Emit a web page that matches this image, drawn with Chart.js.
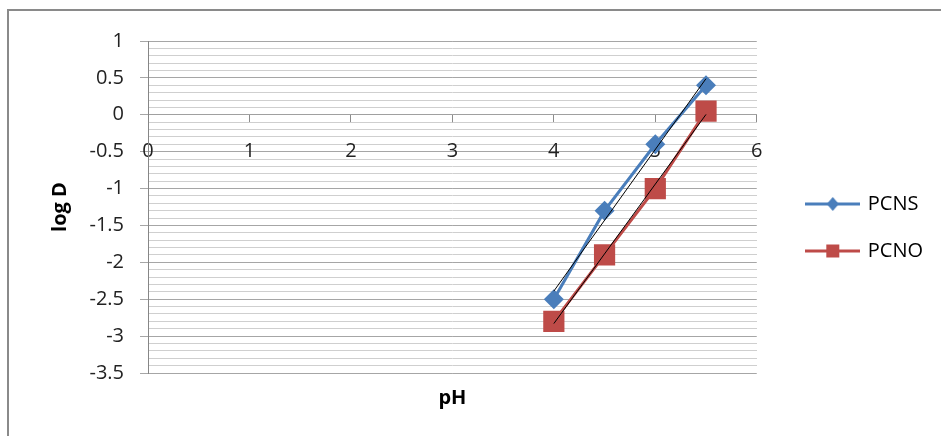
<!DOCTYPE html>
<html><head><meta charset="utf-8">
<script src="https://cdn.jsdelivr.net/npm/chart.js@4/dist/chart.umd.min.js"></script>
<style>
html,body{margin:0;padding:0;background:#fff;}
#frame{position:absolute;left:7px;top:9px;width:960px;height:460px;border:2px solid #8a8a8a;box-sizing:border-box;}
#wrap{position:absolute;left:0;top:0;width:941px;height:436px;}
</style></head><body>
<div id="frame"></div>
<div id="wrap"><canvas id="c" width="941" height="436"></canvas></div>
<script>
const seriesNames = ['PCNS', 'PCNO'];
const phValues = [4, 4.5, 5, 5.5];
const pcnsLogD = [-2.5, -1.3, -0.4, 0.4];
const pcnoLogD = [-2.8, -1.9, -1.0, 0.05];
const xTicks = [0, 1, 2, 3, 4, 5, 6];
const yTicks = [1, 0.5, 0, -0.5, -1, -1.5, -2, -2.5, -3, -3.5];
const xTitle = 'pH';
const yTitle = 'log D';

const colors = ['#4a7ebb', '#be4b48'];
const styles = ['rectRot', 'rect'];
const FONT = '"Open Sans", "DejaVu Sans", sans-serif';

function linearFit(xs, ys) {
  const n = xs.length;
  const mx = xs.reduce((a, b) => a + b, 0) / n;
  const my = ys.reduce((a, b) => a + b, 0) / n;
  let sxy = 0, sxx = 0;
  for (let i = 0; i < n; i++) { sxy += (xs[i] - mx) * (ys[i] - my); sxx += (xs[i] - mx) ** 2; }
  const m = sxy / sxx, b = my - m * mx;
  const x0 = Math.min(...xs), x1 = Math.max(...xs);
  return [{x: x0, y: m * x0 + b}, {x: x1, y: m * x1 + b}];
}

function legendIcon(color, style) {
  const c = document.createElement('canvas');
  c.width = 55; c.height = 20;
  const g = c.getContext('2d');
  g.strokeStyle = color; g.lineWidth = 3;
  g.beginPath(); g.moveTo(0, 10); g.lineTo(55, 10); g.stroke();
  g.fillStyle = color;
  g.beginPath();
  if (style === 'rectRot') {
    g.moveTo(27.5, 3); g.lineTo(33.5, 10); g.lineTo(27.5, 17); g.lineTo(21.5, 10); g.closePath();
  } else {
    g.rect(21, 3.5, 13, 13);
  }
  g.fill();
  return c;
}

const seriesValues = [pcnsLogD, pcnoLogD];
const datasets = [];
seriesValues.forEach((vals, i) => {
  datasets.push({
    label: seriesNames[i] + ' trend',
    data: linearFit(phValues, vals),
    showLine: true, borderColor: '#000', borderWidth: 1, pointRadius: 0,
    order: 0
  });
});
seriesValues.forEach((vals, i) => {
  datasets.push({
    label: seriesNames[i],
    data: phValues.map((x, k) => ({x: x, y: vals[k]})),
    showLine: true, borderColor: colors[i], backgroundColor: colors[i], borderWidth: 3,
    pointStyle: styles[i], pointRadius: i === 0 ? 10 : 15, pointBorderWidth: 0,
    pointBackgroundColor: colors[i], order: 1 + i
  });
});

new Chart(document.getElementById('c'), {
  type: 'scatter',
  data: {datasets: datasets},
  options: {
    responsive: false, animation: false,
    events: [],
    layout: {padding: {left: 0, top: 41, right: 8, bottom: 22}},
    plugins: {
      tooltip: {enabled: false},
      legend: {
        position: 'right',
        labels: {
          font: {family: FONT, size: 20}, color: '#111', padding: 27,
          usePointStyle: true, pointStyleWidth: 50,
          generateLabels: () => seriesNames.map((n, i) => ({
            text: n, pointStyle: legendIcon(colors[i], styles[i]),
            fillStyle: colors[i], strokeStyle: colors[i], lineWidth: 0, hidden: false, datasetIndex: 2 + i
          }))
        }
      }
    },
    scales: {
      x: {
        type: 'linear', min: 0, max: 6, position: {y: 0},
        afterBuildTicks: s => { s.ticks = xTicks.map(v => ({value: v})); },
        afterFit: s => { s.height = 0; },
        ticks: {font: {family: FONT, size: 20}, color: '#222', padding: 17, callback: v => String(v), maxRotation: 0},
        grid: {drawOnChartArea: false, drawTicks: true, tickLength: 8, color: '#8c8c8c'},
        border: {display: true, color: '#a0a0a0'}
      },
      x2: {
        type: 'linear', min: 0, max: 6, position: 'bottom',
        afterFit: s => { s.height = 41; },
        ticks: {display: false},
        grid: {display: false},
        border: {display: false},
        title: {display: true, text: xTitle, font: {family: FONT, size: 20, weight: 'bold'}, color: '#000', padding: {top: 0, bottom: 4}}
      },
      y: {
        type: 'linear', min: -3.5, max: 1, position: 'left',
        afterBuildTicks: s => { s.ticks = yTicks.slice().reverse().map(v => ({value: v})); },
        afterFit: s => { s.width = 148; },
        ticks: {font: {family: FONT, size: 20}, color: '#222', padding: 16, callback: v => String(v)},
        grid: {color: '#a6a6a6', tickLength: 8, drawTicks: true},
        border: {display: true, color: '#868686'},
        title: {display: true, text: yTitle, font: {family: FONT, size: 20, weight: 'bold'}, color: '#000', padding: {top: 48, bottom: 0}}
      },
      y2: {
        type: 'linear', min: -3.5, max: 1, position: 'right',
        afterFit: s => { s.width = 24; },
        ticks: {display: false, stepSize: 0.1},
        grid: {
          drawTicks: false,
          color: ctx => {
            const v = ctx.tick ? ctx.tick.value : 0;
            return Math.abs(v * 2 - Math.round(v * 2)) < 1e-6 ? 'rgba(0,0,0,0)' : '#cfcfcf';
          }
        },
        border: {display: false}
      }
    }
  }
});
</script>
</body></html>
